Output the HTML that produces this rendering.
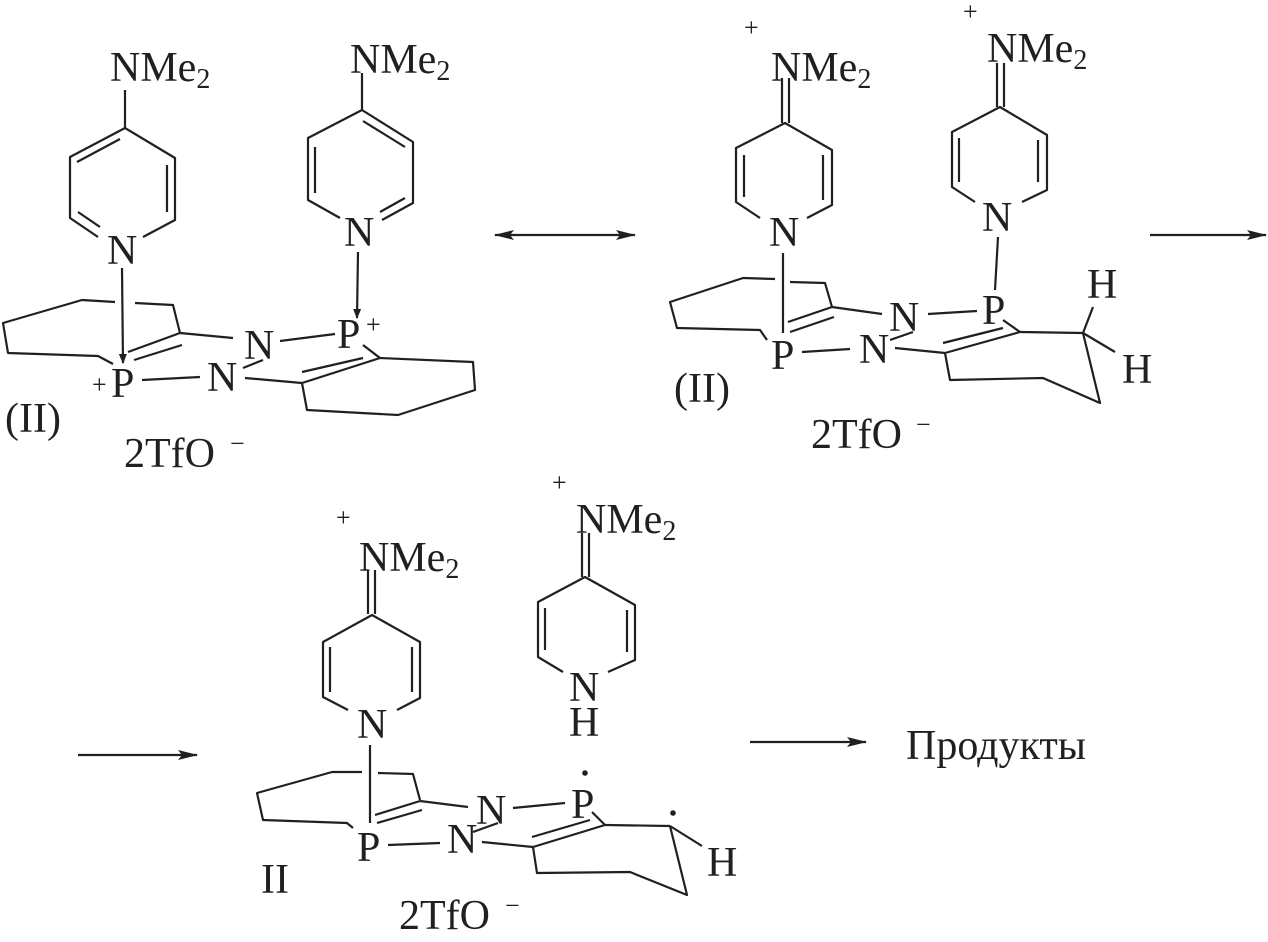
<!DOCTYPE html>
<html><head><meta charset="utf-8"><style>
html,body{margin:0;padding:0;background:#fff;}
svg{display:block;}
text{font-family:"Liberation Serif",serif;font-size:42px;fill:#231f20;}
.s{font-size:28px;}
.p{font-size:26px;}
</style></head><body>
<svg width="1268" height="942" viewBox="0 0 1268 942" xmlns="http://www.w3.org/2000/svg">
<defs>
<marker id="ah" markerWidth="10" markerHeight="8" refX="9" refY="4" orient="auto" markerUnits="userSpaceOnUse">
<path d="M0,0 L10,4 L0,8 Z" fill="#231f20"/></marker>
<marker id="ah2" markerWidth="20" markerHeight="10" refX="19" refY="5" orient="auto" markerUnits="userSpaceOnUse">
<path d="M0,0 L20,5 L0,10 L4,5 Z" fill="#231f20"/></marker>
<marker id="ah2s" markerWidth="20" markerHeight="10" refX="1" refY="5" orient="auto" markerUnits="userSpaceOnUse">
<path d="M20,0 L0,5 L20,10 L16,5 Z" fill="#231f20"/></marker>
</defs>
<g stroke="#231f20" stroke-width="2.2" fill="none" stroke-linejoin="round">
<!-- ===== Structure 1 ===== -->
<line x1="125" y1="90" x2="125" y2="128"/>
<polyline points="98,237 70,218 70,157 125,128 175,158 175,220 143,237"/>
<line x1="77" y1="162" x2="120" y2="139"/>
<line x1="167" y1="165" x2="167" y2="212"/>
<line x1="78" y1="212" x2="100" y2="227"/>
<line x1="122" y1="268" x2="123" y2="363" marker-end="url(#ah)"/>
<polyline points="115,302 82,300 3,323 8,353 98,356 113,364"/>
<polyline points="135,303 173,305 180,333"/>
<line x1="180" y1="333" x2="128" y2="352"/>
<line x1="182" y1="345" x2="134" y2="360"/>
<line x1="180" y1="333" x2="233" y2="338"/>
<line x1="280" y1="341" x2="335" y2="334"/>
<line x1="142" y1="380" x2="200" y2="377"/>
<line x1="243" y1="368" x2="263" y2="360"/>
<line x1="245" y1="378" x2="302" y2="383"/>
<line x1="302" y1="383" x2="380" y2="358"/>
<line x1="302" y1="372" x2="363" y2="358"/>
<line x1="363" y1="345" x2="380" y2="358"/>
<polyline points="380,358 473,362 475,390 398,415 307,410 302,383"/>
<line x1="362" y1="73" x2="362" y2="110"/>
<polyline points="340,218 308,200 308,138 362,110 413,142 413,203 382,220"/>
<line x1="315" y1="147" x2="315" y2="193"/>
<line x1="363" y1="121" x2="405" y2="147"/>
<line x1="380" y1="212" x2="405" y2="198"/>
<line x1="358" y1="252" x2="357" y2="318" marker-end="url(#ah)"/>

<line x1="495" y1="235" x2="635" y2="235" marker-end="url(#ah2)" marker-start="url(#ah2s)"/>
<line x1="1150" y1="235" x2="1266" y2="235" marker-end="url(#ah2)"/>

<!-- ===== Structure 2 ===== -->
<line x1="782" y1="78" x2="782" y2="123"/>
<line x1="789" y1="78" x2="789" y2="123"/>
<polyline points="760,218 736,202 736,148 785,123 832,150 832,205 807,218"/>
<line x1="744" y1="155" x2="744" y2="197"/>
<line x1="823" y1="155" x2="823" y2="200"/>
<line x1="783" y1="253" x2="783" y2="333"/>
<polyline points="775,279 743,278 670,302 677,328 760,330 767,340"/>
<polyline points="790,282 825,283 832,307"/>
<line x1="832" y1="307" x2="788" y2="322"/>
<line x1="834" y1="317" x2="790" y2="332"/>
<line x1="832" y1="307" x2="882" y2="314"/>
<line x1="928" y1="314" x2="977" y2="311"/>
<line x1="802" y1="352" x2="850" y2="349"/>
<line x1="890" y1="340" x2="913" y2="332"/>
<line x1="895" y1="348" x2="945" y2="353"/>
<line x1="945" y1="353" x2="1020" y2="332"/>
<line x1="943" y1="343" x2="1003" y2="328"/>
<line x1="1003" y1="320" x2="1020" y2="332"/>
<line x1="1020" y1="332" x2="1083" y2="333"/>
<line x1="1083" y1="333" x2="1093" y2="307"/>
<line x1="1083" y1="333" x2="1115" y2="352"/>
<polyline points="1083,333 1100,403 1043,378 950,380 945,353"/>
<line x1="998" y1="237" x2="995" y2="290"/>
<line x1="997" y1="63" x2="997" y2="107"/>
<line x1="1004" y1="63" x2="1004" y2="107"/>
<polyline points="975,202 952,187 952,132 1000,107 1047,135 1047,190 1022,202"/>
<line x1="959" y1="138" x2="959" y2="182"/>
<line x1="1038" y1="140" x2="1038" y2="182"/>

<line x1="78" y1="755" x2="197" y2="755" marker-end="url(#ah2)"/>
<line x1="750" y1="742" x2="866" y2="742" marker-end="url(#ah2)"/>

<!-- ===== Structure 3 ===== -->
<line x1="368" y1="570" x2="368" y2="614"/>
<line x1="375" y1="570" x2="375" y2="614"/>
<polyline points="348,710 323,697 323,642 372,615 420,642 420,698 397,710"/>
<line x1="330" y1="647" x2="330" y2="692"/>
<line x1="412" y1="647" x2="412" y2="692"/>
<line x1="370" y1="745" x2="370" y2="823"/>
<polyline points="362,772 332,772 257,793 263,820 347,823 353,828"/>
<polyline points="378,773 413,774 420,800"/>
<line x1="420" y1="801" x2="375" y2="815"/>
<line x1="422" y1="810" x2="377" y2="823"/>
<line x1="420" y1="801" x2="468" y2="807"/>
<line x1="513" y1="808" x2="565" y2="803"/>
<line x1="388" y1="845" x2="440" y2="843"/>
<line x1="473" y1="832" x2="498" y2="823"/>
<line x1="482" y1="842" x2="533" y2="847"/>
<line x1="533" y1="847" x2="605" y2="825"/>
<line x1="532" y1="837" x2="590" y2="820"/>
<line x1="592" y1="812" x2="605" y2="825"/>
<line x1="605" y1="825" x2="670" y2="826"/>
<line x1="670" y1="826" x2="702" y2="846"/>
<polyline points="670,826 687,895 630,872 537,873 533,847"/>
<line x1="582" y1="533" x2="582" y2="577"/>
<line x1="589" y1="533" x2="589" y2="577"/>
<polyline points="563,672 538,657 538,602 585,577 635,605 635,660 608,672"/>
<line x1="545" y1="608" x2="545" y2="650"/>
<line x1="627" y1="610" x2="627" y2="652"/>
</g>
<g fill="#231f20">
<circle cx="585" cy="773" r="2.8"/>
<circle cx="673" cy="813" r="2.8"/>
</g>

<text x="110" y="81">NMe<tspan class="s" dy="7">2</tspan></text>
<text x="107" y="264">N</text>
<text x="244" y="359">N</text>
<text x="207" y="391">N</text>
<text class="p" x="92" y="393">+</text>
<text x="111" y="397">P</text>
<text x="337" y="348">P</text>
<text class="p" x="366" y="333">+</text>
<text x="350" y="73">NMe<tspan class="s" dy="7">2</tspan></text>
<text x="344" y="246">N</text>
<text x="5" y="432">(II)</text>
<text x="124" y="467">2TfO</text>
<text class="p" x="230" y="452">−</text>

<text class="p" x="744" y="36">+</text>
<text x="771" y="81">NMe<tspan class="s" dy="7">2</tspan></text>
<text x="769" y="246">N</text>
<text x="771" y="369">P</text>
<text x="889" y="331">N</text>
<text x="859" y="363">N</text>
<text x="982" y="324">P</text>
<text x="1087" y="298">H</text>
<text x="1122" y="383">H</text>
<text class="p" x="963" y="20">+</text>
<text x="987" y="62">NMe<tspan class="s" dy="7">2</tspan></text>
<text x="982" y="231">N</text>
<text x="674" y="402">(II)</text>
<text x="811" y="448">2TfO</text>
<text class="p" x="916" y="433">−</text>

<text x="906" y="759">Продукты</text>

<text class="p" x="336" y="526">+</text>
<text x="359" y="571">NMe<tspan class="s" dy="7">2</tspan></text>
<text x="357" y="738">N</text>
<text x="357" y="861">P</text>
<text x="476" y="824">N</text>
<text x="447" y="853">N</text>
<text x="571" y="818">P</text>
<text x="707" y="876">H</text>
<text class="p" x="552" y="491">+</text>
<text x="576" y="533">NMe<tspan class="s" dy="7">2</tspan></text>
<text x="569" y="701">N</text>
<text x="569" y="736">H</text>
<text x="261" y="893">II</text>
<text x="399" y="929">2TfO</text>
<text class="p" x="505" y="914">−</text>
</svg>
</body></html>
